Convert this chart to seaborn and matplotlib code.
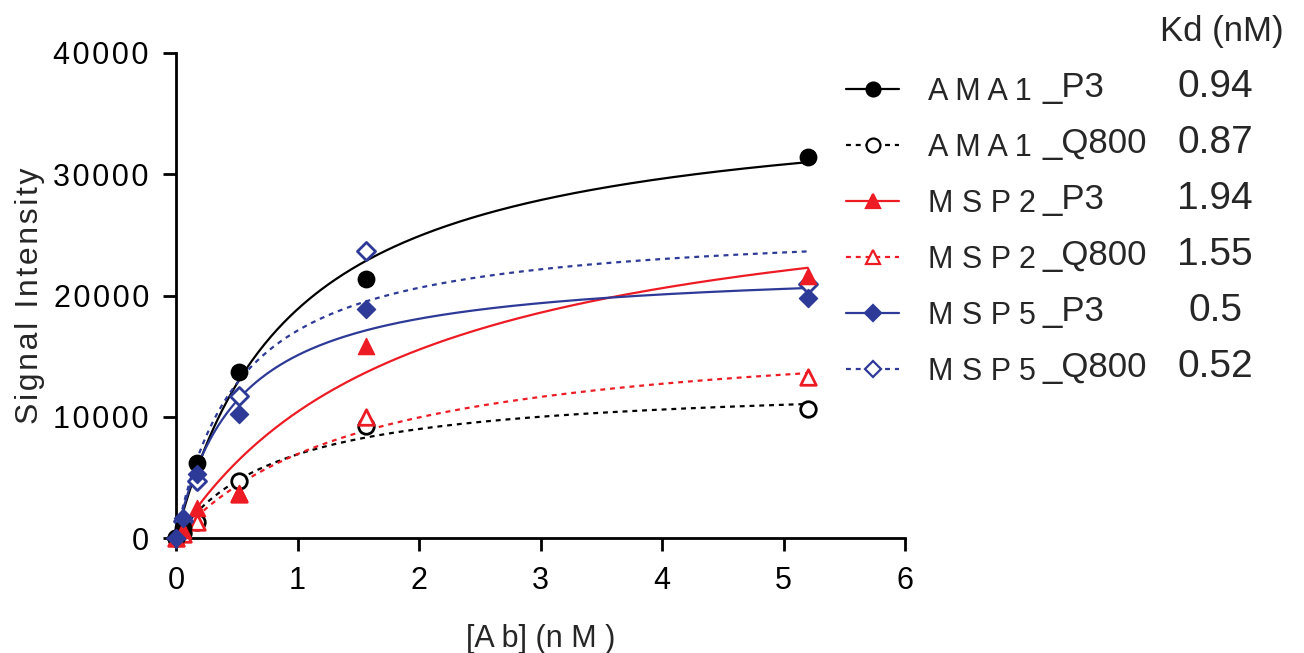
import numpy as np
import pandas as pd
import matplotlib
matplotlib.use("Agg")
import matplotlib.pyplot as plt
from matplotlib.lines import Line2D
import seaborn as sns

# antibody concentrations (nM)
conc = [0, 0.058, 0.173, 0.52, 1.56, 5.2]

series = ["AMA1_P3", "AMA1_Q800", "MSP2_P3", "MSP2_Q800", "MSP5_P3", "MSP5_Q800"]
legend_labels = ["A M A 1", "A M A 1", "M S P 2", "M S P 2", "M S P 5", "M S P 5"]
legend_suffix = ["_P3", "_Q800", "_P3", "_Q800", "_P3", "_Q800"]

ama1_p3 = [0, 800, 6200, 13700, 21400, 31400]
ama1_q800 = [0, 400, 1350, 4700, 9250, 10600]
msp2_p3 = [0, 700, 2450, 3700, 15800, 21600]
msp2_q800 = [0, 300, 1350, 3600, 9950, 13300]
msp5_p3 = [0, 1650, 5300, 10200, 18850, 19800]
msp5_q800 = [0, 1400, 4700, 11700, 23700, 20950]

# one-site binding fit parameters
kd = [0.94, 0.87, 1.94, 1.55, 0.5, 0.52]
kd_labels = ["0.94", "0.87", "1.94", "1.55", "0.5", "0.52"]
bmax = [36600, 12900, 30600, 17650, 22600, 26000]

xticks = [0, 1, 2, 3, 4, 5, 6]
yticks = [0, 10000, 20000, 30000, 40000]

values = [ama1_p3, ama1_q800, msp2_p3, msp2_q800, msp5_p3, msp5_q800]

RED = "#ED1C24"
BLUE = "#2E3A97"
colors = ["black", "black", RED, RED, BLUE, BLUE]
markers = ["o", "o", "^", "^", "D", "D"]
filled = [True, False, True, False, True, False]
msizes = [140, 125, 135, 125, 85, 85]
DASH = (0, (2.2, 2.2))
styles = ["-", DASH, "-", DASH, "-", DASH]

sns.set_style("ticks")
plt.rcParams["font.family"] = ["Liberation Sans", "DejaVu Sans"]

def spaced(s):
    # hair space between letters, like the loose tracking in the original
    return "\u200a".join(s)

fig = plt.figure(figsize=(13.04, 6.53), dpi=100)
ax = fig.add_axes([176 / 1304, 1 - 538 / 653, (905 - 176) / 1304, (538 - 53) / 653])

x_fit = np.linspace(0, max(conc), 300)
for i, name in enumerate(series):
    y_fit = bmax[i] * x_fit / (kd[i] + x_fit)
    sns.lineplot(x=x_fit, y=y_fit, ax=ax, color=colors[i], lw=1.6,
                 linestyle=styles[i], legend=False, zorder=2)

for i, name in enumerate(series):
    df = pd.DataFrame({"conc": conc, "signal": values[i]})
    if filled[i]:
        sns.scatterplot(data=df, x="conc", y="signal", ax=ax, marker=markers[i],
                        s=msizes[i], color=colors[i], edgecolor=colors[i],
                        linewidth=1.0, clip_on=False, zorder=4, legend=False)
    else:
        sns.scatterplot(data=df, x="conc", y="signal", ax=ax, marker=markers[i],
                        s=msizes[i], facecolor="white", edgecolor=colors[i],
                        linewidth=2.0, clip_on=False, zorder=3, legend=False)

ax.set_xlim(0, 6)
ax.set_ylim(0, 40000)
ax.set_xticks(xticks)
ax.set_xticklabels([str(t) for t in xticks])
ax.set_yticks(yticks)
ax.set_yticklabels([spaced(str(t)) for t in yticks])
ax.tick_params(axis="both", direction="out", length=9.5, width=2, labelsize=22,
               color="black", labelcolor="black", pad=10)
ax.tick_params(axis="x", pad=11)
for side in ["left", "bottom"]:
    ax.spines[side].set_linewidth(2)
    ax.spines[side].set_color("black")
sns.despine(ax=ax)

ax.set_xlabel("[A b] (n M )", fontsize=22, labelpad=20)
ax.set_ylabel(spaced("Signal Intensity"), fontsize=23, labelpad=6)

handles = []
for i in range(len(series)):
    handles.append(Line2D([], [], color=colors[i], linestyle=styles[i], lw=1.6,
                          marker=markers[i], markersize=10 if markers[i] != "D" else 8,
                          markerfacecolor=colors[i] if filled[i] else "white",
                          markeredgecolor=colors[i],
                          markeredgewidth=1.6))

leg = fig.legend(handles, legend_labels, loc="upper left",
                 bbox_to_anchor=(846 / 1304, 1 - 77 / 653), frameon=False,
                 fontsize=22, handlelength=1.75, handletextpad=0.95,
                 labelspacing=0.85, borderaxespad=0, borderpad=0)

fig.canvas.draw()
W, H = fig.canvas.get_width_height()
for txt, suf, k in zip(leg.get_texts(), legend_suffix, kd_labels):
    bx, by = txt.get_transform().transform(txt.get_position())
    yb = (by + 3) / H
    fig.text(1042 / W, yb, suf, ha="left", va="baseline", fontsize=25)
    fig.text(1215 / W, yb, k, ha="center", va="baseline", fontsize=28)
fig.text(1222 / W, 1 - 31 / 653, "Kd (nM)", ha="center", va="center", fontsize=25)

fig.savefig("out.png", dpi=100)
